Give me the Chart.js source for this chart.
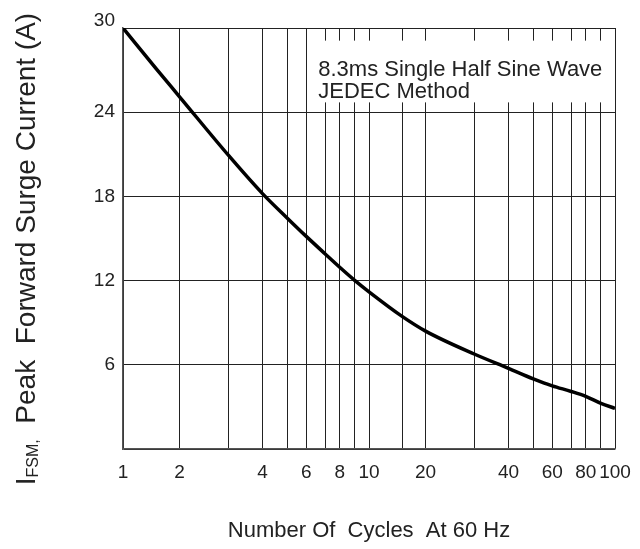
<!DOCTYPE html>
<html>
<head>
<meta charset="utf-8">
<title>Peak Forward Surge Current</title>
<script src="https://cdn.jsdelivr.net/npm/chart.js@4.4.1/dist/chart.umd.min.js"></script>
<style>
  html, body { margin: 0; padding: 0; background: #fff; }
  #wrap { width: 640px; height: 549px; }
</style>
</head>
<body>
<div id="wrap"><canvas id="surgeChart" width="640" height="549"></canvas></div>
<script>
(function () {
  'use strict';

  // values
  const cycles = [1, 1.5, 2, 3, 4, 5, 6, 7, 8, 9, 10, 15, 20, 30, 40, 50, 60, 70, 80, 90, 100];
  const surgeCurrent = [30, 27.1, 25.1, 20.9, 18.2, 16.45, 15.15, 13.9, 12.95, 12.0, 11.2, 9.45, 8.4, 6.75, 5.75, 5.0, 4.5, 4.1, 3.75, 3.25, 2.9];

  const xTickLabels = [1, 2, 4, 6, 8, 10, 20, 40, 60, 80, 100];
  const yTickLabels = [6, 12, 18, 24, 30];
  const noteLines = ['8.3ms Single Half Sine Wave', 'JEDEC Method'];
  const xTitle = 'Number Of  Cycles  At 60 Hz';
  const yTitleMain = 'I';
  const yTitleSub = 'FSM,';
  const yTitleRest = '  Peak  Forward Surge Current (A)';

  const FONT = "'Liberation Sans', Arial, Helvetica, sans-serif";
  const TEXT_COLOR = '#222';

  // The printed log paper is not a true log scale: the 2..9 lines sit a bit
  // to the left. Offsets are the fraction of a decade for each line.
  const PAPER_MANTISSA = [1, 2, 3, 4, 5, 6, 7, 8, 9, 10];
  const PAPER_OFFSET = [0, 0.23, 0.43, 0.567, 0.668, 0.745, 0.822, 0.881, 0.943, 1];

  function paperLog(v) {
    const e = Math.floor(Math.log10(v) + 1e-9);
    const m = v / Math.pow(10, e);
    let i = 0;
    while (i < 8 && m >= PAPER_MANTISSA[i + 1]) i++;
    const a = PAPER_MANTISSA[i];
    const b = PAPER_MANTISSA[i + 1];
    const t = Math.log(m / a) / Math.log(b / a);
    return e + PAPER_OFFSET[i] + t * (PAPER_OFFSET[i + 1] - PAPER_OFFSET[i]);
  }

  class PaperLogScale extends Chart.LogarithmicScale {
    getPixelForValue(value) {
      if (value === undefined || value === null || isNaN(value) || value <= 0) return NaN;
      const lo = paperLog(this.min);
      const hi = paperLog(this.max);
      return this.getPixelForDecimal((paperLog(value) - lo) / (hi - lo));
    }
  }
  PaperLogScale.id = 'paperLog';
  PaperLogScale.defaults = Chart.LogarithmicScale.defaults;
  Chart.register(PaperLogScale);

  // white note box over the upper-right grid
  const noteBox = { xFrom: 6.3, xTo: 95, yFrom: 24.7, yTo: 29.1 };

  const notePlugin = {
    id: 'note',
    beforeDatasetsDraw(chart) {
      const { ctx, scales } = chart;
      const left = scales.x.getPixelForValue(noteBox.xFrom);
      const right = scales.x.getPixelForValue(noteBox.xTo);
      const top = scales.y.getPixelForValue(noteBox.yTo);
      const bottom = scales.y.getPixelForValue(noteBox.yFrom);
      ctx.save();
      ctx.fillStyle = '#fff';
      ctx.fillRect(left, top, right - left, bottom - top);
      ctx.fillStyle = TEXT_COLOR;
      ctx.font = '22px ' + FONT;
      ctx.textBaseline = 'alphabetic';
      noteLines.forEach((line, i) => {
        ctx.fillText(line, left + 6, top + 35 + i * 22);
      });
      ctx.restore();
    },
  };

  // rotated y title with the FSM subscript
  const yTitlePlugin = {
    id: 'yTitle',
    afterDraw(chart) {
      const ctx = chart.ctx;
      const big = '28px ' + FONT;
      const small = '16px ' + FONT;
      ctx.save();
      ctx.font = big;
      const w0 = ctx.measureText(yTitleMain).width;
      const w2 = ctx.measureText(yTitleRest).width;
      ctx.font = small;
      const w1 = ctx.measureText(yTitleSub).width;
      const total = w0 + w1 + w2;
      ctx.translate(35, 249 + total / 2);
      ctx.rotate(-Math.PI / 2);
      ctx.fillStyle = TEXT_COLOR;
      ctx.textBaseline = 'alphabetic';
      ctx.font = big;
      ctx.fillText(yTitleMain, 0, 0);
      ctx.font = small;
      ctx.fillText(yTitleSub, w0, 3);
      ctx.font = big;
      ctx.fillText(yTitleRest, w0 + w1, 0);
      ctx.restore();
    },
  };

  const gridStyle = { color: '#222', lineWidth: 1, drawTicks: false };
  const borderStyle = { display: true, color: '#555', width: 1.5 };

  new Chart(document.getElementById('surgeChart'), {
    type: 'line',
    data: {
      datasets: [
        {
          label: 'IFSM',
          data: cycles.map((c, i) => ({ x: c, y: surgeCurrent[i] })),
          borderColor: '#000',
          borderWidth: 3.5,
          pointRadius: 0,
          cubicInterpolationMode: 'monotone',
          fill: false,
        },
      ],
    },
    options: {
      responsive: false,
      animation: false,
      events: [],
      layout: { padding: { top: 28, right: 25, left: 0, bottom: 0 } },
      plugins: {
        legend: { display: false },
        tooltip: { enabled: false },
        title: { display: false },
      },
      scales: {
        x: {
          type: 'paperLog',
          min: 1,
          max: 100,
          grid: gridStyle,
          border: borderStyle,
          afterFit: (scale) => { scale.height = 100; },
          ticks: {
            autoSkip: false,
            maxRotation: 0,
            padding: 9,
            color: TEXT_COLOR,
            font: { family: FONT, size: 19, lineHeight: 1.6 },
            callback: (v) => (xTickLabels.includes(Math.round(v)) && Math.abs(v - Math.round(v)) < 1e-6 ? String(Math.round(v)) : ''),
          },
          title: {
            display: true,
            text: xTitle,
            color: TEXT_COLOR,
            font: { family: FONT, size: 22 },
            padding: { top: 0, bottom: 5 },
          },
        },
        y: {
          type: 'linear',
          min: 0,
          max: 30,
          grid: gridStyle,
          border: borderStyle,
          afterFit: (scale) => { scale.width = 123; },
          ticks: {
            stepSize: 6,
            padding: 8,
            color: TEXT_COLOR,
            font: { family: FONT, size: 19, lineHeight: 0.8 },
            // the top label sits just above its line in the original
            callback: (v) => (v === 30 ? ['30', ''] : yTickLabels.includes(v) ? String(v) : ''),
          },
        },
      },
    },
    plugins: [notePlugin, yTitlePlugin],
  });
})();
</script>
</body>
</html>
